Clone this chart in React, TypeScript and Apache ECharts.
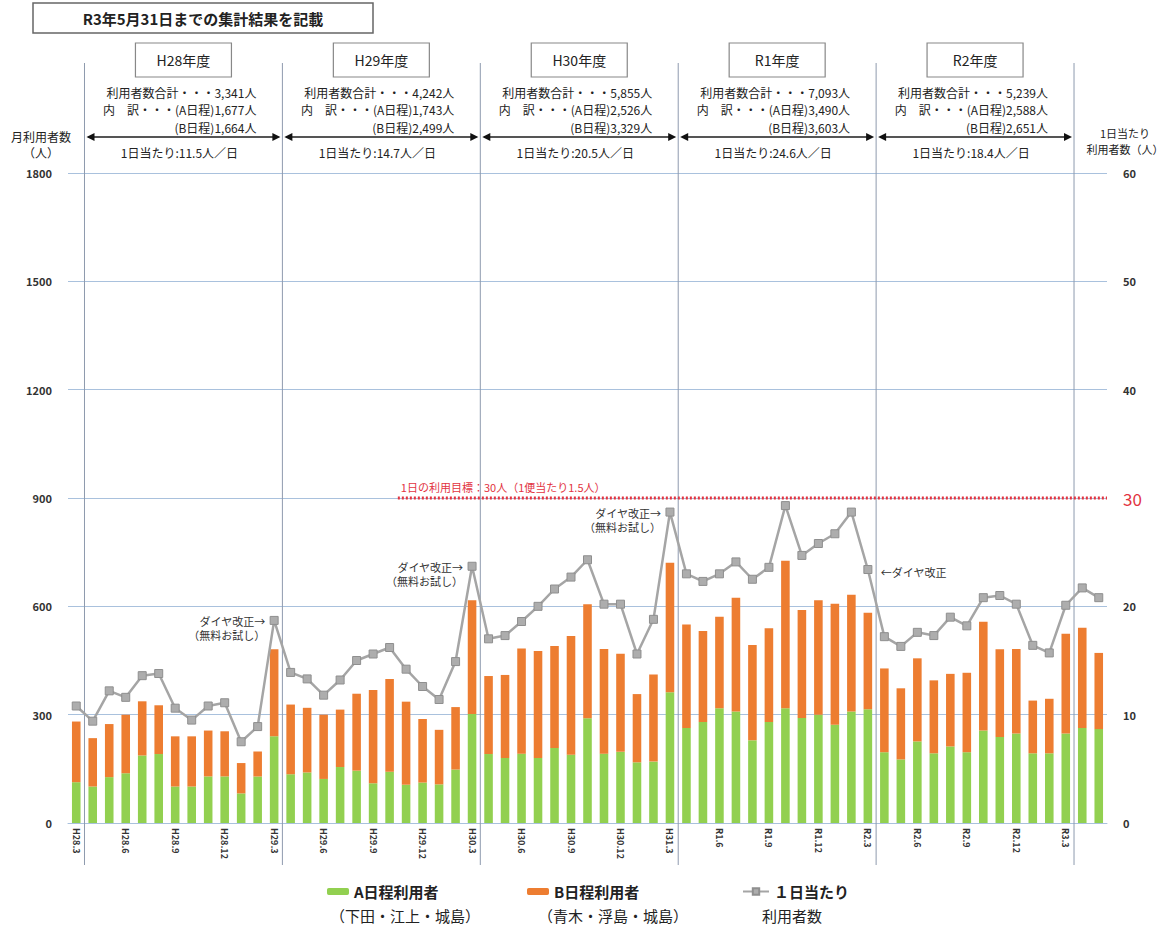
import React, { useEffect, useRef } from 'react';
import * as echarts from 'echarts';

const FONT = '"Noto Sans CJK JP", "Noto Sans", sans-serif';

const categories = [
  'H28.3', 'H28.4', 'H28.5', 'H28.6', 'H28.7', 'H28.8', 'H28.9', 'H28.10', 'H28.11', 'H28.12',
  'H29.1', 'H29.2', 'H29.3', 'H29.4', 'H29.5', 'H29.6', 'H29.7', 'H29.8', 'H29.9', 'H29.10', 'H29.11', 'H29.12',
  'H30.1', 'H30.2', 'H30.3', 'H30.4', 'H30.5', 'H30.6', 'H30.7', 'H30.8', 'H30.9', 'H30.10', 'H30.11', 'H30.12',
  'H31.1', 'H31.2', 'H31.3', 'H31.4', 'R1.5', 'R1.6', 'R1.7', 'R1.8', 'R1.9', 'R1.10', 'R1.11', 'R1.12',
  'R2.1', 'R2.2', 'R2.3', 'R2.4', 'R2.5', 'R2.6', 'R2.7', 'R2.8', 'R2.9', 'R2.10', 'R2.11', 'R2.12',
  'R3.1', 'R3.2', 'R3.3', 'R3.4', 'R3.5',
];

// A日程利用者 (monthly)
const aValues = [
  113, 101, 127, 138, 187, 191, 101, 101, 129, 129,
  82, 129, 240, 135, 140, 122, 155, 145, 110, 142, 106, 112,
  107, 148, 302, 191, 180, 192, 180, 208, 189, 290, 192, 197,
  168, 170, 362, 263, 280, 318, 309, 229, 280, 318, 291, 300,
  272, 309, 315, 196, 176, 226, 193, 212, 196, 256, 238, 248,
  193, 193, 248, 263, 260,
];

// B日程利用者 (monthly)
const bValues = [
  168, 134, 147, 162, 150, 135, 139, 139, 127, 125,
  84, 69, 241, 193, 179, 178, 159, 213, 258, 257, 230, 176,
  151, 173, 315, 216, 230, 291, 296, 282, 329, 316, 290, 272,
  189, 241, 359, 287, 252, 253, 315, 264, 259, 408, 299, 317,
  335, 323, 267, 232, 197, 230, 202, 201, 220, 301, 243, 234,
  146, 151, 276, 278, 211,
];

// 1日当たり利用者数
const perDayValues = [
  10.8, 9.4, 12.2, 11.6, 13.6, 13.8, 10.6, 9.5, 10.8, 11.1,
  7.5, 8.9, 18.7, 13.9, 13.3, 11.8, 13.2, 15.0, 15.6, 16.2, 14.2, 12.6,
  11.4, 14.9, 23.7, 17.0, 17.3, 18.6, 20.0, 21.6, 22.7, 24.3, 20.2, 20.2,
  15.6, 18.8, 28.7, 23.0, 22.3, 23.0, 24.1, 22.5, 23.6, 29.3, 24.7, 25.8,
  26.7, 28.7, 23.4, 17.2, 16.3, 17.6, 17.3, 19.0, 18.2, 20.8, 21.0, 20.2,
  16.4, 15.7, 20.1, 21.7, 20.8,
];

const leftTicks = { min: 0, max: 1800, interval: 300 };
const rightTicks = { min: 0, max: 60, interval: 10 };
const targetPerDay = 30;
const targetStartIndex = 20;

const fiscalYears = ['H28年度', 'H29年度', 'H30年度', 'R1年度', 'R2年度'];
const fiscalStartIndex = [1, 13, 25, 37, 49, 61];
const yearTotals = ['3,341', '4,242', '5,855', '7,093', '5,239'];
const yearA = ['1,677', '1,743', '2,526', '3,490', '2,588'];
const yearB = ['1,664', '2,499', '3,329', '3,603', '2,651'];
const yearPerDay = ['11.5', '14.7', '20.5', '24.6', '18.4'];

const annotationIndex = [12, 24, 36, 48];
const annotationLine1 = ['ダイヤ改正→', 'ダイヤ改正→', 'ダイヤ改正→', '←ダイヤ改正'];
const annotationLine2 = ['（無料お試し）', '（無料お試し）', '（無料お試し）', ''];

const legendNames = ['A日程利用者', 'B日程利用者', '１日当たり'];
const legendSubs = ['（下田・江上・城島）', '（青木・浮島・城島）', '利用者数'];

const GREEN = '#92D050';
const ORANGE = '#ED7D31';
const GRAY = '#A5A5A5';
const RED = '#E2343F';
const GRID = '#A9C1DD';

export default function App() {
  const ref = useRef<HTMLDivElement>(null);

  useEffect(() => {
    const chart = echarts.init(ref.current as HTMLDivElement, null, { renderer: 'svg' });

    const legendCommon = {
      itemWidth: 22,
      itemHeight: 7,
      textStyle: { fontSize: 15, fontWeight: 'bold', color: '#222', fontFamily: FONT },
      itemGap: 0,
    };

    chart.setOption({
      animation: false,
      backgroundColor: '#fff',
      textStyle: { fontFamily: FONT },
      grid: { left: 68, right: 55, top: 173, bottom: 105, containLabel: false },
      legend: [
        { ...legendCommon, data: [legendNames[0]], left: 322, top: 879 },
        { ...legendCommon, data: [legendNames[1]], left: 522, top: 879 },
        { ...legendCommon, data: [legendNames[2]], left: 737, top: 879, itemWidth: 26, itemHeight: 8 },
      ],
      xAxis: {
        type: 'category',
        data: categories,
        axisTick: { show: false },
        axisLine: { show: true, lineStyle: { color: GRID } },
        axisLabel: {
          interval: 2,
          rotate: -90,
          fontSize: 9,
          fontWeight: 'bold',
          color: '#333',
          margin: 5,
          fontFamily: FONT,
        },
      },
      yAxis: [
        {
          type: 'value',
          ...leftTicks,
          axisLine: { show: false },
          axisTick: { show: false },
          splitLine: { lineStyle: { color: GRID, width: 1 } },
          axisLabel: {
            fontSize: 11,
            fontWeight: 'bold',
            color: '#333',
            margin: 16,
            fontFamily: FONT,
            formatter: (v: number) => String(v),
          },
        },
        {
          type: 'value',
          ...rightTicks,
          axisLine: { show: false },
          axisTick: { show: false },
          splitLine: { show: false },
          axisLabel: {
            fontSize: 11,
            fontWeight: 'bold',
            color: '#333',
            margin: 16,
            fontFamily: FONT,
            formatter: (v: number) => (v === targetPerDay ? '{red|' + v + '}' : String(v)),
            rich: { red: { color: RED, fontSize: 17, fontWeight: 'normal', fontFamily: FONT } },
          },
        },
      ],
      series: [
        {
          name: legendNames[0],
          type: 'bar',
          stack: 'total',
          data: aValues,
          barWidth: '52%',
          itemStyle: { color: GREEN },
        },
        {
          name: legendNames[1],
          type: 'bar',
          stack: 'total',
          data: bValues,
          barWidth: '52%',
          itemStyle: { color: ORANGE },
        },
        {
          name: legendNames[2],
          type: 'line',
          yAxisIndex: 1,
          data: perDayValues,
          symbol: 'rect',
          symbolSize: 8,
          z: 5,
          lineStyle: { color: GRAY, width: 2.5 },
          itemStyle: { color: '#ADADAD', borderColor: '#8F8F8F', borderWidth: 1 },
        },
      ],
    });

    const xOf = (i: number) => chart.convertToPixel({ xAxisIndex: 0 }, categories[i]) as number;
    const band = xOf(1) - xOf(0);
    const boundary = (i: number) => (i < categories.length ? xOf(i) - band / 2 : xOf(categories.length - 1) + band / 2);
    const yOfRight = (v: number) => chart.convertToPixel({ yAxisIndex: 1 }, v) as number;
    const yTarget = yOfRight(targetPerDay);
    const gridRight = boundary(categories.length);

    const txt = (x: number, y: number, text: string, size: number, align: string, opts: any = {}) => ({
      type: 'text',
      x,
      y,
      z: 20,
      style: {
        text,
        fill: opts.fill || '#222',
        font: `${opts.weight || 'normal'} ${size}px ${FONT}`,
        align,
        textAlign: align,
        verticalAlign: 'middle',
        textVerticalAlign: 'middle',
      },
    });

    const elements: any[] = [];
    // title box
    elements.push({
      type: 'rect',
      shape: { x: 33, y: 3, width: 340, height: 30 },
      style: { fill: '#fff', stroke: '#666', lineWidth: 1.5 },
      z: 19,
    });
    elements.push(txt(203, 18, 'R3年5月31日までの集計結果を記載', 15, 'center', { weight: 'bold' }));

    // axis titles
    elements.push(txt(41, 136, '月利用者数', 12, 'center'));
    elements.push(txt(41, 152, '（人）', 12, 'center'));
    elements.push(txt(1125, 133, '1日当たり', 11, 'center'));
    elements.push(txt(1125, 149, '利用者数（人）', 11, 'center'));

    // fiscal dividers
    const dividers = fiscalStartIndex.map((i) => boundary(i));
    dividers.forEach((d) => {
      elements.push({
        type: 'line',
        shape: { x1: d, y1: 63, x2: d, y2: 865 },
        style: { stroke: '#8E9AAE', lineWidth: 1 },
        z: 3,
      });
    });

    // headers
    fiscalYears.forEach((fy, k) => {
      const l = dividers[k];
      const r = dividers[k + 1];
      const mid = (l + r) / 2;
      elements.push({
        type: 'rect',
        shape: { x: mid - 48, y: 43, width: 96, height: 34 },
        style: { fill: '#fff', stroke: '#888', lineWidth: 1.2 },
        z: 19,
      });
      elements.push(txt(mid, 60, fy, 14, 'center'));
      const ra = r - 26;
      elements.push(txt(ra, 92, `利用者数合計・・・${yearTotals[k]}人`, 12, 'right'));
      elements.push(txt(ra, 109, `内　訳・・・(A日程)${yearA[k]}人`, 12, 'right'));
      elements.push(txt(ra, 127, `(B日程)${yearB[k]}人`, 12, 'right'));
      const ay = 137;
      elements.push({
        type: 'line',
        shape: { x1: l + 4, y1: ay, x2: r - 4, y2: ay },
        style: { stroke: '#555', lineWidth: 2 },
        z: 20,
      });
      elements.push({
        type: 'polygon',
        shape: { points: [[l + 2, ay], [l + 10, ay - 4], [l + 10, ay + 4]] },
        style: { fill: '#111' },
        z: 21,
      });
      elements.push({
        type: 'polygon',
        shape: { points: [[r - 2, ay], [r - 10, ay - 4], [r - 10, ay + 4]] },
        style: { fill: '#111' },
        z: 21,
      });
      elements.push(txt(mid - 4, 152, `1日当たり:${yearPerDay[k]}人／日`, 12, 'center'));
    });

    // annotations placed at the line points
    annotationIndex.forEach((idx, k) => {
      const px = xOf(idx);
      const py = yOfRight(perDayValues[idx]);
      if (annotationLine2[k] === '') {
        elements.push(txt(px + 13, py + 2, annotationLine1[k], 11, 'left', { fill: '#333' }));
      } else {
        elements.push(txt(px - 9, py + 1, annotationLine1[k], 11, 'right', { fill: '#333' }));
        elements.push(txt(px - 9, py + 15, annotationLine2[k], 11, 'right', { fill: '#333' }));
      }
    });

    // target line
    const tx0 = boundary(targetStartIndex);
    elements.push({
      type: 'line',
      shape: { x1: tx0, y1: yTarget, x2: gridRight, y2: yTarget },
      style: { stroke: RED, lineWidth: 3, lineDash: [2, 2] },
      z: 4,
    });
    elements.push(txt(tx0 + 3, yTarget - 11, '1日の利用目標：30人（1便当たり1.5人）', 11, 'left', { fill: RED }));

    // legend sub lines
    elements.push(txt(330, 915, legendSubs[0], 15, 'left'));
    elements.push(txt(538, 915, legendSubs[1], 15, 'left'));
    elements.push(txt(762, 915, legendSubs[2], 15, 'left'));

    chart.setOption({ graphic: { elements } });

    return () => chart.dispose();
  }, []);

  return (
    <div
      ref={ref}
      style={{ position: 'fixed', left: 0, top: 0, width: 1162, height: 928, background: '#fff' }}
    />
  );
}
